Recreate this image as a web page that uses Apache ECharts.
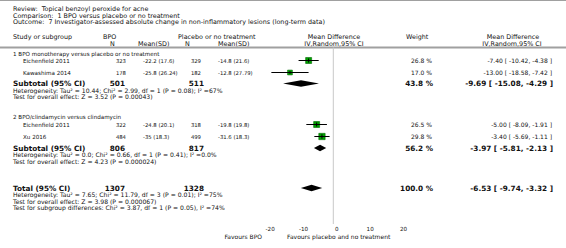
<!DOCTYPE html>
<html><head><meta charset="utf-8">
<script src="https://cdn.jsdelivr.net/npm/echarts@6/dist/echarts.min.js"></script>
<style>html,body{margin:0;padding:0;background:#fff}#c{width:566px;height:248px}</style>
</head><body><div id="c"></div>
<script>
// ---------- data ----------
const titleLines = ['Review:\u00a0 Topical benzoyl peroxide for acne',
  'Comparison:\u00a0 1 BPO versus placebo or no treatment',
  'Outcome:\u00a0 7 Investigator-assessed absolute change in non-inflammatory lesions (long-term data)'];
const groupNames = ['1 BPO monotherapy versus placebo or no treatment', '2 BPO/clindamycin versus clindamycin'];
const studies = ['Eichenfield 2011', 'Kawashima 2014', 'Eichenfield 2011', 'Xu 2016'];
const studyGroup = [0, 0, 1, 1];
const bpoN = [323, 178, 322, 484];
const bpoMeanSD = ['-22.2 (17.6)', '-25.8 (26.24)', '-24.8 (20.1)', '-35 (18.3)'];
const plaN = [329, 182, 318, 499];
const plaMeanSD = ['-14.8 (21.6)', '-12.8 (27.79)', '-19.8 (19.8)', '-31.6 (18.3)'];
const studyMD = [-7.40, -13.00, -5.00, -3.40];
const studyLo = [-10.42, -18.58, -8.09, -5.69];
const studyHi = [-4.38, -7.42, -1.91, -1.11];
const studyWeight = [26.8, 17.0, 26.5, 29.8];
const subBpoN = [501, 806];
const subPlaN = [511, 817];
const subMD = [-9.69, -3.97];
const subLo = [-15.08, -5.81];
const subHi = [-4.29, -2.13];
const subWeight = [43.8, 56.2];
const subHet = ['Heterogeneity: Tau\u00b2 = 10.44; Chi\u00b2 = 2.99, df = 1 (P = 0.08); I\u00b2 =67%',
  'Heterogeneity: Tau\u00b2 = 0.0; Chi\u00b2 = 0.66, df = 1 (P = 0.41); I\u00b2 =0.0%'];
const subTest = ['Test for overall effect: Z = 3.52 (P = 0.00043)', 'Test for overall effect: Z = 4.23 (P = 0.000024)'];
const totalBpoN = 1307, totalPlaN = 1328;
const totalMD = -6.53, totalLo = -9.74, totalHi = -3.32, totalWeight = 100.0;
const totalNotes = ['Heterogeneity: Tau\u00b2 = 7.65; Chi\u00b2 = 11.79, df = 3 (P = 0.01); I\u00b2 =75%',
  'Test for overall effect: Z = 3.98 (P = 0.000067)',
  'Test for subgroup differences: Chi\u00b2 = 3.87, df = 1 (P = 0.05), I\u00b2 =74%'];
const axisTicks = [-20, -10, 0, 10, 20];
const favLeft = 'Favours BPO', favRight = 'Favours placebo and no treatment';

// ---------- layout ----------
const W = 566;
const ZERO_X = 333.3, PX_PER_UNIT = 3.333;
const Y_TITLE = [9, 15.5, 22];
const Y_H1 = 37, Y_H2 = 43.5, Y_HLINE = 47.5;
const Y_GROUP = [54, 117];
const Y_STUDY = [60.5, 72.5, 124.5, 136.5];
const Y_SUB = [83.5, 148];
const NOTE_GAP = 6.8, NOTE_STEP = 6.2;
const Y_TOT = 188;
const AXIS_Y = 224;
const Y_FAV = 236;
const X_L = 13, X_IND = 23;
const X_BPON = 126, X_BPOM = 143, X_PLAN = 201, X_PLAM = 218;
const X_W = 432, X_MD = 553;
const FONT = '"DejaVu Sans", Verdana, sans-serif';
const FS_T = 6.4, FS_H = 6.4, FS_NOTE = 6.1, FS_ROW = 5.6, FS_NUM = 5.3, FS_R = 6.0, FS_B = 7.3;
const SQ_K = 1.16;

function txt(text, x, y, size, opt) {
  opt = opt || {};
  return {type: 'text', silent: true, style: {
    text: text, x: x, y: y, fill: opt.fill || '#111',
    font: (opt.bold ? 'bold ' : '') + size + 'px ' + FONT,
    textAlign: opt.align || 'left', textVerticalAlign: 'middle'}};
}
const fmt = v => v.toFixed(2);
const ciText = (m, l, h) => fmt(m) + ' [ ' + fmt(l) + ', ' + fmt(h) + ' ]';

const g = [];
titleLines.forEach((t, i) => g.push(txt(t, X_L, Y_TITLE[i], FS_T)));
g.push(txt('Study or subgroup', X_L, Y_H1, FS_H));
g.push(txt('BPO', 103, Y_H1, FS_H));
g.push(txt('N', 110, Y_H2, FS_H));
g.push(txt('Mean(SD)', 138, Y_H2, FS_H));
g.push(txt('Placebo or no treatment', 178, Y_H1, FS_H));
g.push(txt('N', 185, Y_H2, FS_H));
g.push(txt('Mean(SD)', 218, Y_H2, FS_H));
g.push(txt('Mean Difference', 334, Y_H1, FS_H, {align: 'center'}));
g.push(txt('IV,Random,95% CI', 334, Y_H2, FS_H, {align: 'center'}));
g.push(txt('Weight', 406, Y_H1, FS_H));
g.push(txt('Mean Difference', 513, Y_H1, FS_H, {align: 'center'}));
g.push(txt('IV,Random,95% CI', 512, Y_H2, FS_H, {align: 'center'}));
g.push({type: 'line', silent: true, shape: {x1: 0, y1: Y_HLINE, x2: W, y2: Y_HLINE}, style: {stroke: '#a0a0a0', lineWidth: 2}});

groupNames.forEach((name, gi) => {
  const ys = Y_SUB[gi];
  g.push(txt(name, X_L, Y_GROUP[gi], FS_ROW));
  g.push(txt('Subtotal (95% CI)', X_L, ys, FS_B, {bold: true}));
  g.push(txt(String(subBpoN[gi]), X_BPON - 1, ys, FS_B, {bold: true, align: 'right'}));
  g.push(txt(String(subPlaN[gi]), X_PLAN + 3, ys, FS_B, {bold: true, align: 'right'}));
  g.push(txt(subWeight[gi].toFixed(1) + ' %', X_W + 1, ys, FS_B, {bold: true, align: 'right'}));
  g.push(txt(ciText(subMD[gi], subLo[gi], subHi[gi]), X_MD, ys, FS_B, {bold: true, align: 'right'}));
  g.push(txt(subHet[gi], X_L, ys + NOTE_GAP, FS_NOTE));
  g.push(txt(subTest[gi], X_L, ys + NOTE_GAP + NOTE_STEP, FS_NOTE));
});
studies.forEach((s, i) => {
  const y = Y_STUDY[i];
  g.push(txt(s, X_IND, y, FS_ROW));
  g.push(txt(String(bpoN[i]), X_BPON, y, FS_NUM, {align: 'right'}));
  g.push(txt(bpoMeanSD[i], X_BPOM, y, FS_NUM));
  g.push(txt(String(plaN[i]), X_PLAN, y, FS_NUM, {align: 'right'}));
  g.push(txt(plaMeanSD[i], X_PLAM, y, FS_NUM));
  g.push(txt(studyWeight[i].toFixed(1) + ' %', X_W, y, FS_R, {align: 'right'}));
  g.push(txt(ciText(studyMD[i], studyLo[i], studyHi[i]), X_MD - 1, y, FS_R, {align: 'right'}));
});
g.push(txt('Total (95% CI)', X_L, Y_TOT, FS_B, {bold: true}));
g.push(txt(String(totalBpoN), X_BPON - 1, Y_TOT, FS_B, {bold: true, align: 'right'}));
g.push(txt(String(totalPlaN), X_PLAN + 3, Y_TOT, FS_B, {bold: true, align: 'right'}));
g.push(txt(totalWeight.toFixed(1) + ' %', X_W + 1, Y_TOT, FS_B, {bold: true, align: 'right'}));
g.push(txt(ciText(totalMD, totalLo, totalHi), X_MD, Y_TOT, FS_B, {bold: true, align: 'right'}));
totalNotes.forEach((t, i) => g.push(txt(t, X_L, Y_TOT + NOTE_GAP + i * NOTE_STEP, FS_NOTE)));
g.push(txt(favLeft, 262, Y_FAV, FS_R, {align: 'right'}));
g.push(txt(favRight, 287, Y_FAV, FS_R));

// ---------- series data ----------
const studyData = studies.map((s, i) => [studyMD[i], studyLo[i], studyHi[i], studyWeight[i], Y_STUDY[i]]);
const diamondData = subMD.map((m, i) => [m, subLo[i], subHi[i], Y_SUB[i]]).concat([[totalMD, totalLo, totalHi, Y_TOT]]);

const chart = echarts.init(document.getElementById('c'), null, {renderer: 'svg'});
chart.setOption({
  animation: false,
  grid: {left: 0, right: 0, top: 0, height: AXIS_Y, containLabel: false},
  xAxis: {
    type: 'value', min: -ZERO_X / PX_PER_UNIT, max: (W - ZERO_X) / PX_PER_UNIT,
    splitLine: {show: false},
    axisLine: {lineStyle: {color: '#a0a0a0', width: 2}},
    axisTick: {show: true, inside: true, length: 2, customValues: axisTicks, lineStyle: {color: '#555', width: 1}},
    axisLabel: {customValues: axisTicks, fontSize: FS_ROW, fontFamily: FONT, color: '#111', margin: 2, padding: [0, 0, 0, 7]}
  },
  yAxis: {type: 'value', min: 0, max: AXIS_Y, inverse: true, show: false},
  graphic: g,
  series: [
    {type: 'line', silent: true, symbol: 'none', data: [[0, Y_HLINE], [0, AXIS_Y]],
      lineStyle: {color: '#c8c8c8', width: 1}, z: 1},
    {type: 'custom', silent: true, data: studyData, z: 3,
      renderItem: function (params, api) {
        const y = api.value(4);
        const m = api.coord([api.value(0), y]);
        const l = api.coord([api.value(1), y]);
        const h = api.coord([api.value(2), y]);
        const s = SQ_K * Math.sqrt(api.value(3));
        return {type: 'group', children: [
          {type: 'rect', shape: {x: m[0] - s / 2, y: m[1] - s / 2, width: s, height: s}, style: {fill: '#00a000', stroke: '#006b00', lineWidth: 0.6}},
          {type: 'line', shape: {x1: l[0], y1: l[1], x2: h[0], y2: h[1]}, style: {stroke: '#000', lineWidth: 1}},
          {type: 'line', shape: {x1: m[0], y1: m[1] - s / 2 + 1, x2: m[0], y2: m[1] + s / 2 - 1}, style: {stroke: '#000', lineWidth: 1}}
        ]};
      }},
    {type: 'custom', silent: true, data: diamondData, z: 3,
      renderItem: function (params, api) {
        const y = api.value(3);
        const m = api.coord([api.value(0), y]);
        const l = api.coord([api.value(1), y]);
        const h = api.coord([api.value(2), y]);
        return {type: 'polygon', shape: {points: [[l[0], l[1]], [m[0], m[1] - 3.2], [h[0], h[1]], [m[0], m[1] + 3.2]]}, style: {fill: '#000'}};
      }}
  ]
});
</script></body></html>
